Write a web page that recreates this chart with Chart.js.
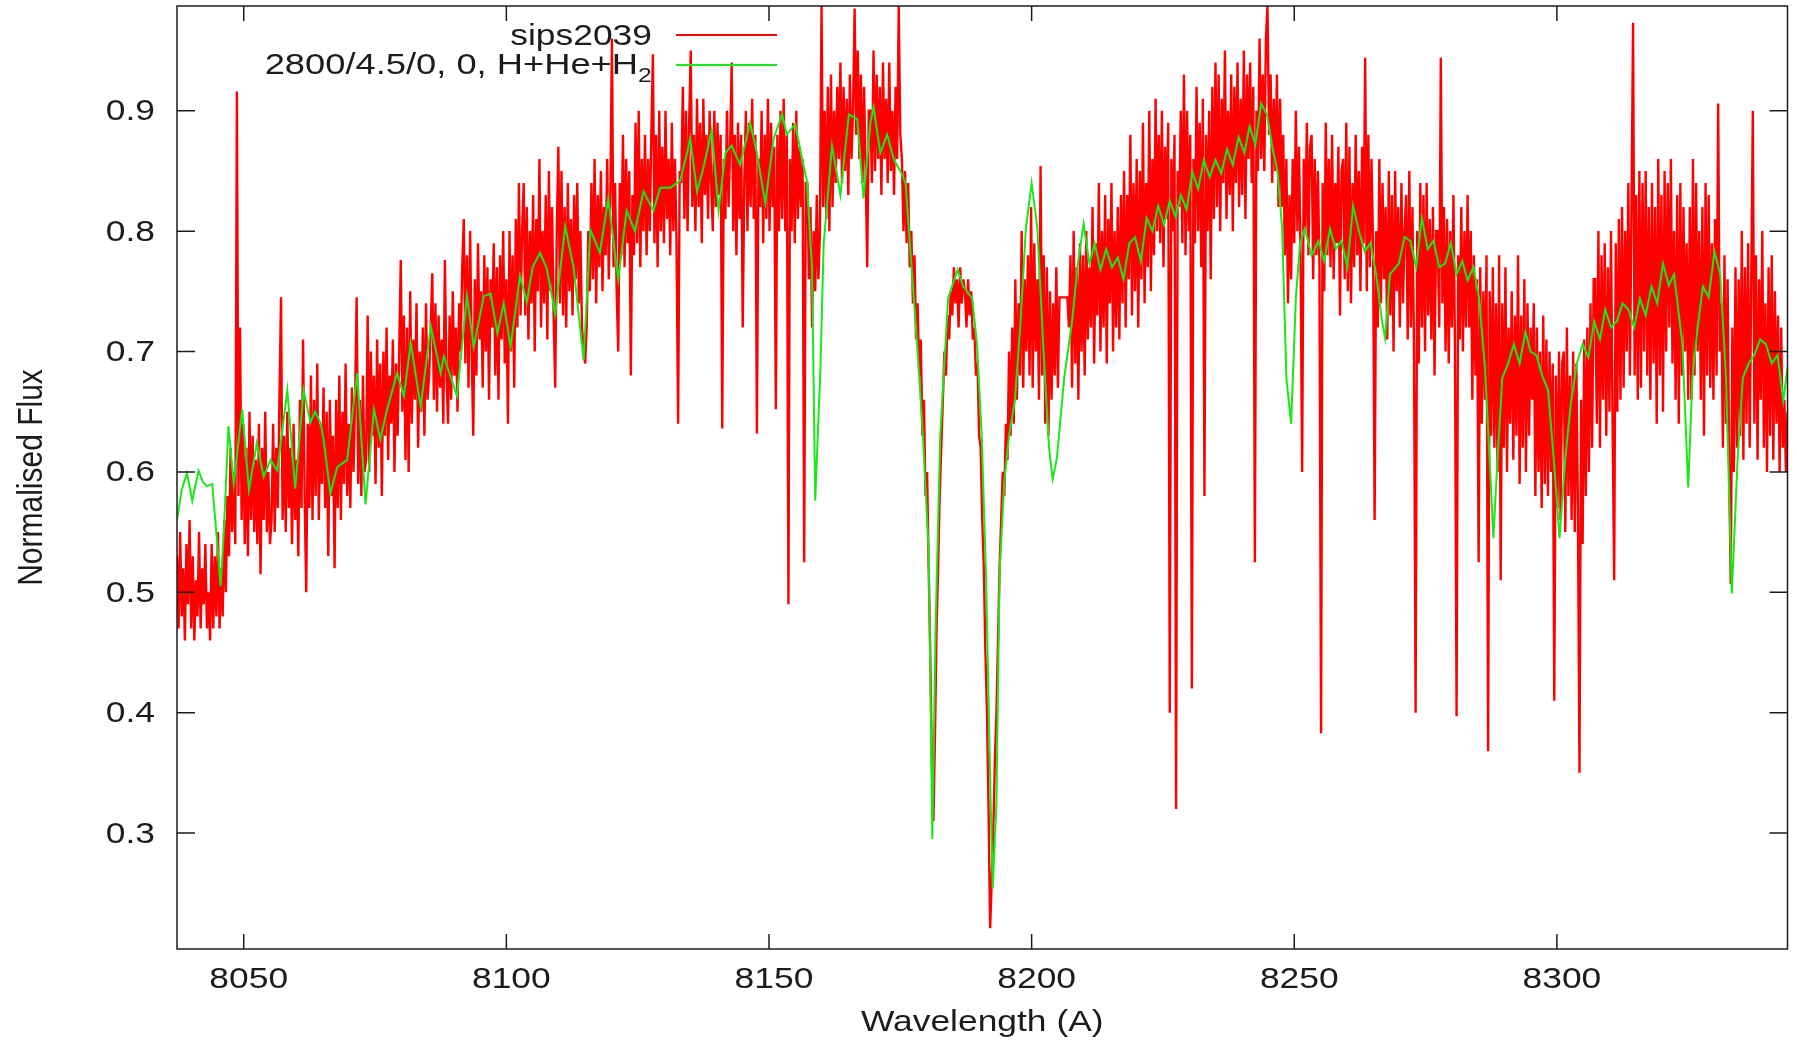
<!DOCTYPE html>
<html>
<head>
<meta charset="utf-8">
<title>sips2039 spectrum</title>
<script src="https://cdn.jsdelivr.net/npm/chart.js@4.4.1/dist/chart.umd.min.js"></script>
<style>
  html, body { margin: 0; padding: 0; background: #fff; }
  #wrap { width: 1797px; height: 1041px; }
</style>
</head>
<body>
<div id="wrap"><canvas id="spec" width="1797" height="1041"></canvas></div>
<script>
// axis ranges and ticks
const xMin = 8037.3, xMax = 8343.9;
const yMin = 0.2037, yMax = 0.987;
const xTicks = [8050, 8100, 8150, 8200, 8250, 8300];
const yTicks = [0.3, 0.4, 0.5, 0.6, 0.7, 0.8, 0.9];

// observed spectrum, sampled every 0.3 A from 8037.3 A (one row = 6 A)
const sipsStart = 8037.3, sipsStep = 0.3;
const sipsFlux = [
  0.53, 0.47, 0.55, 0.48, 0.52, 0.46, 0.54, 0.49, 0.56, 0.47, 0.53, 0.46, 0.51, 0.48, 0.55, 0.47, 0.52, 0.49, 0.54, 0.47,
  0.50, 0.46, 0.54, 0.47, 0.53, 0.48, 0.55, 0.47, 0.52, 0.48, 0.56, 0.50, 0.58, 0.53, 0.62, 0.55, 0.60, 0.54, 0.916, 0.58,
  0.72, 0.56, 0.64, 0.54, 0.62, 0.53, 0.65, 0.56, 0.63, 0.55, 0.61, 0.54, 0.64, 0.515, 0.62, 0.56, 0.65, 0.55, 0.60, 0.54,
  0.56, 0.64, 0.55, 0.62, 0.57, 0.66, 0.745, 0.56, 0.63, 0.55, 0.65, 0.57, 0.62, 0.54, 0.64, 0.56, 0.61, 0.53, 0.66, 0.57,
  0.71, 0.58, 0.50, 0.64, 0.57, 0.68, 0.56, 0.66, 0.58, 0.69, 0.56, 0.64, 0.59, 0.67, 0.57, 0.65, 0.53, 0.66, 0.58, 0.63,
  0.52, 0.66, 0.57, 0.68, 0.56, 0.65, 0.59, 0.69, 0.58, 0.64, 0.57, 0.67, 0.60, 0.66, 0.745, 0.59, 0.66, 0.58, 0.68, 0.60,
  0.61, 0.73, 0.60, 0.70, 0.63, 0.68, 0.59, 0.71, 0.62, 0.69, 0.58, 0.70, 0.63, 0.72, 0.61, 0.68, 0.64, 0.71, 0.60, 0.69,
  0.63, 0.70, 0.776, 0.65, 0.73, 0.61, 0.72, 0.60, 0.75, 0.64, 0.71, 0.66, 0.74, 0.62, 0.70, 0.65, 0.72, 0.63, 0.74, 0.66,
  0.68, 0.72, 0.765, 0.66, 0.74, 0.65, 0.73, 0.67, 0.71, 0.64, 0.776, 0.68, 0.64, 0.73, 0.66, 0.75, 0.68, 0.72, 0.65, 0.74,
  0.70, 0.77, 0.81, 0.69, 0.78, 0.67, 0.80, 0.70, 0.63, 0.76, 0.68, 0.79, 0.71, 0.75, 0.67, 0.78, 0.70, 0.77, 0.66, 0.76,
  0.72, 0.79, 0.68, 0.77, 0.66, 0.78, 0.71, 0.80, 0.69, 0.76, 0.64, 0.80, 0.70, 0.78, 0.67, 0.81, 0.72, 0.84, 0.73, 0.80,
  0.84, 0.73, 0.82, 0.71, 0.80, 0.74, 0.83, 0.70, 0.81, 0.75, 0.86, 0.72, 0.80, 0.74, 0.83, 0.71, 0.85, 0.75, 0.82, 0.73,
  0.67, 0.80, 0.87, 0.74, 0.85, 0.73, 0.82, 0.72, 0.84, 0.75, 0.81, 0.73, 0.83, 0.76, 0.84, 0.74, 0.80, 0.72, 0.70, 0.69,
  0.72, 0.80, 0.75, 0.84, 0.76, 0.86, 0.74, 0.83, 0.77, 0.85, 0.75, 0.82, 0.78, 0.86, 0.76, 0.83, 0.96, 0.77, 0.84, 0.75,
  0.70, 0.84, 0.78, 0.88, 0.77, 0.86, 0.79, 0.85, 0.68, 0.83, 0.78, 0.89, 0.79, 0.90, 0.77, 0.86, 0.80, 0.88, 0.78, 0.86,
  0.80, 0.88, 0.947, 0.79, 0.88, 0.77, 0.90, 0.80, 0.87, 0.79, 0.90, 0.81, 0.86, 0.78, 0.89, 0.80, 0.86, 0.79, 0.64, 0.85,
  0.84, 0.92, 0.81, 0.90, 0.80, 0.89, 0.95, 0.82, 0.88, 0.80, 0.91, 0.82, 0.89, 0.79, 0.91, 0.83, 0.88, 0.81, 0.90, 0.84,
  0.80, 0.90, 0.82, 0.89, 0.83, 0.88, 0.636, 0.86, 0.81, 0.90, 0.82, 0.87, 0.94, 0.80, 0.88, 0.78, 0.89, 0.81, 0.88, 0.72,
  0.84, 0.90, 0.80, 0.89, 0.82, 0.91, 0.81, 0.88, 0.632, 0.86, 0.82, 0.90, 0.79, 0.88, 0.81, 0.91, 0.80, 0.89, 0.82, 0.87,
  0.652, 0.88, 0.80, 0.90, 0.81, 0.91, 0.80, 0.88, 0.49, 0.86, 0.80, 0.89, 0.79, 0.90, 0.81, 0.87, 0.82, 0.86, 0.525, 0.84,
  0.84, 0.76, 0.82, 0.72, 0.80, 0.75, 0.83, 0.76, 0.80, 0.987, 0.82, 0.90, 0.81, 0.92, 0.80, 0.93, 0.82, 0.90, 0.84, 0.92,
  0.86, 0.94, 0.84, 0.92, 0.85, 0.91, 0.83, 0.93, 0.86, 0.90, 0.985, 0.88, 0.95, 0.86, 0.93, 0.84, 0.92, 0.85, 0.77, 0.90,
  0.90, 0.84, 0.95, 0.85, 0.93, 0.86, 0.92, 0.83, 0.94, 0.86, 0.91, 0.84, 0.94, 0.85, 0.90, 0.83, 0.92, 0.86, 0.987, 0.88,
  0.86, 0.80, 0.85, 0.79, 0.84, 0.77, 0.80, 0.74, 0.78, 0.71, 0.74, 0.68, 0.71, 0.63, 0.66, 0.58, 0.60, 0.52, 0.45, 0.36,
  0.31, 0.38, 0.47, 0.52, 0.58, 0.62, 0.66, 0.70, 0.68, 0.73, 0.71, 0.75, 0.73, 0.77, 0.74, 0.76, 0.72, 0.77, 0.74, 0.76,
  0.75, 0.72, 0.76, 0.73, 0.75, 0.71, 0.72, 0.68, 0.69, 0.63, 0.62, 0.56, 0.52, 0.45, 0.40, 0.32, 0.221, 0.26, 0.30, 0.36,
  0.40, 0.46, 0.52, 0.56, 0.60, 0.58, 0.64, 0.61, 0.70, 0.63, 0.72, 0.64, 0.76, 0.66, 0.74, 0.68, 0.80, 0.67, 0.76, 0.70,
  0.78, 0.68, 0.82, 0.67, 0.79, 0.70, 0.76, 0.66, 0.854, 0.68, 0.78, 0.64, 0.77, 0.63, 0.75, 0.66, 0.74, 0.68, 0.77, 0.67,
  0.745, 0.745, 0.745, 0.745, 0.745, 0.745, 0.72, 0.78, 0.67, 0.80, 0.69, 0.77, 0.66, 0.79, 0.70, 0.78, 0.68, 0.80, 0.71, 0.77,
  0.72, 0.82, 0.69, 0.79, 0.73, 0.84, 0.70, 0.80, 0.72, 0.83, 0.69, 0.81, 0.74, 0.84, 0.70, 0.80, 0.72, 0.82, 0.71, 0.83,
  0.74, 0.85, 0.72, 0.83, 0.76, 0.88, 0.73, 0.84, 0.75, 0.86, 0.72, 0.85, 0.76, 0.89, 0.74, 0.84, 0.77, 0.90, 0.75, 0.86,
  0.78, 0.91, 0.80, 0.88, 0.79, 0.90, 0.77, 0.87, 0.81, 0.89, 0.40, 0.86, 0.80, 0.88, 0.32, 0.85, 0.82, 0.90, 0.79, 0.93,
  0.78, 0.90, 0.80, 0.88, 0.42, 0.86, 0.79, 0.92, 0.80, 0.89, 0.77, 0.91, 0.58, 0.88, 0.80, 0.90, 0.76, 0.92, 0.81, 0.94,
  0.82, 0.93, 0.80, 0.91, 0.84, 0.95, 0.81, 0.90, 0.83, 0.93, 0.80, 0.92, 0.84, 0.94, 0.82, 0.91, 0.83, 0.95, 0.81, 0.93,
  0.86, 0.94, 0.84, 0.92, 0.525, 0.90, 0.85, 0.96, 0.86, 0.93, 0.85, 0.96, 0.987, 0.88, 0.93, 0.84, 0.91, 0.85, 0.93, 0.82,
  0.91, 0.82, 0.88, 0.78, 0.86, 0.74, 0.83, 0.76, 0.86, 0.79, 0.90, 0.80, 0.87, 0.78, 0.60, 0.86, 0.80, 0.89, 0.78, 0.87,
  0.88, 0.76, 0.86, 0.78, 0.85, 0.77, 0.383, 0.84, 0.75, 0.89, 0.78, 0.86, 0.77, 0.88, 0.76, 0.84, 0.79, 0.87, 0.73, 0.85,
  0.86, 0.76, 0.89, 0.75, 0.87, 0.74, 0.84, 0.77, 0.88, 0.78, 0.85, 0.75, 0.87, 0.79, 0.944, 0.75, 0.88, 0.77, 0.86, 0.79,
  0.56, 0.80, 0.72, 0.86, 0.74, 0.84, 0.76, 0.82, 0.71, 0.85, 0.73, 0.83, 0.70, 0.85, 0.75, 0.82, 0.72, 0.84, 0.74, 0.80,
  0.83, 0.71, 0.85, 0.72, 0.82, 0.70, 0.40, 0.80, 0.69, 0.84, 0.72, 0.83, 0.70, 0.84, 0.73, 0.81, 0.71, 0.82, 0.68, 0.80,
  0.80, 0.72, 0.944, 0.74, 0.82, 0.70, 0.81, 0.69, 0.80, 0.72, 0.83, 0.70, 0.397, 0.78, 0.71, 0.82, 0.70, 0.80, 0.72, 0.83,
  0.72, 0.80, 0.66, 0.78, 0.68, 0.76, 0.525, 0.77, 0.64, 0.75, 0.66, 0.78, 0.368, 0.75, 0.63, 0.77, 0.62, 0.74, 0.60, 0.78,
  0.51, 0.74, 0.62, 0.77, 0.60, 0.72, 0.64, 0.75, 0.61, 0.73, 0.63, 0.78, 0.59, 0.73, 0.62, 0.76, 0.60, 0.74, 0.63, 0.72,
  0.66, 0.74, 0.58, 0.72, 0.60, 0.70, 0.57, 0.73, 0.59, 0.71, 0.58, 0.70, 0.60, 0.69, 0.41, 0.68, 0.57, 0.70, 0.56, 0.69,
  0.70, 0.55, 0.72, 0.58, 0.68, 0.56, 0.70, 0.55, 0.69, 0.57, 0.35, 0.66, 0.54, 0.71, 0.58, 0.72, 0.60, 0.74, 0.62, 0.76,
  0.76, 0.64, 0.80, 0.62, 0.78, 0.66, 0.79, 0.63, 0.77, 0.65, 0.80, 0.64, 0.51, 0.79, 0.65, 0.81, 0.66, 0.82, 0.67, 0.80,
  0.70, 0.84, 0.68, 0.82, 0.973, 0.68, 0.83, 0.66, 0.85, 0.67, 0.84, 0.70, 0.85, 0.68, 0.82, 0.66, 0.84, 0.69, 0.82, 0.64,
  0.86, 0.68, 0.83, 0.65, 0.85, 0.70, 0.84, 0.72, 0.86, 0.69, 0.80, 0.66, 0.83, 0.64, 0.84, 0.68, 0.82, 0.70, 0.79, 0.66,
  0.82, 0.66, 0.86, 0.68, 0.84, 0.70, 0.80, 0.66, 0.82, 0.63, 0.84, 0.68, 0.83, 0.67, 0.79, 0.66, 0.81, 0.68, 0.906, 0.70,
  0.74, 0.62, 0.78, 0.64, 0.76, 0.60, 0.507, 0.72, 0.60, 0.77, 0.62, 0.76, 0.63, 0.80, 0.61, 0.77, 0.64, 0.79, 0.62, 0.76,
  0.90, 0.64, 0.78, 0.61, 0.76, 0.66, 0.80, 0.62, 0.74, 0.60, 0.77, 0.63, 0.78, 0.61, 0.75, 0.64, 0.73, 0.60, 0.72, 0.62,
  0.66, 0.60, 0.65
];

// model spectrum 2800/4.5/0
const modelWave = [
  8037.3, 8038.2, 8039.2, 8040.2, 8041.4, 8042.2, 8043.0, 8044.0, 8044.9, 8045.6,
  8046.2, 8047.1, 8048.1, 8049.7, 8051.0, 8052.5, 8053.8, 8055.1, 8056.4, 8058.3,
  8059.8, 8061.4, 8062.7, 8063.6, 8064.6, 8065.2, 8066.5, 8067.8, 8069.7, 8071.6,
  8073.2, 8074.8, 8076.0, 8077.3, 8079.2, 8080.5, 8081.8, 8083.7, 8085.6, 8087.5,
  8088.1, 8090.6, 8092.5, 8093.8, 8095.7, 8097.0, 8098.3, 8099.5, 8100.8, 8102.6,
  8103.9, 8105.0, 8106.4, 8107.7, 8109.3, 8111.2, 8112.8, 8114.7, 8116.0, 8117.8,
  8119.4, 8121.3, 8122.9, 8124.5, 8126.1, 8128.0, 8129.3, 8131.2, 8133.1, 8134.4,
  8135.0, 8136.3, 8137.5, 8139.1, 8140.4, 8141.7, 8142.9, 8144.5, 8146.4, 8147.7,
  8149.3, 8150.9, 8152.5, 8153.4, 8155.0, 8156.3, 8157.2, 8158.2, 8158.8, 8159.8,
  8160.4, 8162.0, 8163.6, 8165.2, 8166.8, 8168.0, 8169.3, 8169.9, 8171.2, 8172.5,
  8173.8, 8175.0, 8176.0, 8177.1, 8178.2, 8179.3, 8180.4, 8181.1, 8181.7, 8182.6,
  8184.1, 8185.9, 8187.0, 8188.7, 8189.6, 8190.5, 8191.3, 8192.2, 8192.6, 8193.3,
  8193.9, 8194.8, 8195.7, 8196.8, 8197.9, 8198.9, 8200.0, 8201.1, 8202.2, 8203.3,
  8204.0, 8204.8, 8206.2, 8207.7, 8208.8, 8209.9, 8211.0, 8212.0, 8213.1, 8214.2,
  8215.3, 8216.4, 8217.5, 8218.6, 8219.7, 8220.8, 8221.9, 8223.0, 8224.1, 8225.2,
  8226.3, 8227.4, 8228.4, 8229.5, 8230.6, 8231.7, 8232.8, 8233.9, 8235.0, 8236.1,
  8237.2, 8238.3, 8239.4, 8240.5, 8241.5, 8242.6, 8243.7, 8244.8, 8245.9, 8246.8,
  8247.7, 8248.5, 8249.4, 8250.3, 8251.1, 8252.0, 8253.3, 8254.6, 8255.7, 8256.8,
  8257.9, 8259.0, 8260.1, 8261.2, 8262.3, 8263.4, 8264.5, 8265.6, 8266.7, 8267.3,
  8268.2, 8269.9, 8271.0, 8272.1, 8273.2, 8274.3, 8275.4, 8276.5, 8277.6, 8278.7,
  8279.8, 8280.9, 8282.0, 8283.0, 8284.1, 8285.2, 8286.3, 8287.4, 8287.9, 8288.7,
  8289.6, 8290.7, 8291.8, 8292.9, 8294.0, 8295.0, 8296.1, 8297.2, 8298.3, 8299.4,
  8300.5, 8301.6, 8302.7, 8303.8, 8304.9, 8306.0, 8307.1, 8308.2, 8309.2, 8310.3,
  8311.4, 8312.5, 8313.6, 8314.7, 8315.8, 8316.9, 8318.0, 8319.1, 8320.2, 8321.3,
  8322.3, 8323.9, 8325.0, 8325.8, 8326.8, 8327.8, 8328.9, 8330.0, 8331.1, 8332.2,
  8333.3, 8334.4, 8335.4, 8336.5, 8337.6, 8338.7, 8339.8, 8340.9, 8342.0, 8343.1,
  8343.9
];
const modelFlux = [
  0.560, 0.585, 0.599, 0.576, 0.601, 0.592, 0.588, 0.590, 0.544, 0.505,
  0.549, 0.638, 0.590, 0.652, 0.585, 0.624, 0.596, 0.610, 0.601, 0.668,
  0.586, 0.668, 0.641, 0.650, 0.641, 0.627, 0.582, 0.604, 0.610, 0.682,
  0.573, 0.652, 0.627, 0.652, 0.682, 0.663, 0.707, 0.654, 0.721, 0.682,
  0.696, 0.663, 0.746, 0.704, 0.746, 0.748, 0.715, 0.740, 0.704, 0.763,
  0.741, 0.770, 0.782, 0.769, 0.731, 0.804, 0.770, 0.693, 0.801, 0.782,
  0.827, 0.760, 0.817, 0.800, 0.833, 0.817, 0.836, 0.836, 0.842, 0.865,
  0.877, 0.833, 0.852, 0.884, 0.817, 0.865, 0.871, 0.855, 0.890, 0.865,
  0.823, 0.877, 0.897, 0.880, 0.889, 0.860, 0.842, 0.769, 0.576, 0.687,
  0.789, 0.871, 0.830, 0.897, 0.893, 0.827, 0.890, 0.903, 0.865, 0.880,
  0.859, 0.850, 0.840, 0.773, 0.706, 0.630, 0.535, 0.295, 0.468, 0.630,
  0.744, 0.768, 0.754, 0.744, 0.706, 0.630, 0.516, 0.326, 0.254, 0.326,
  0.516, 0.592, 0.630, 0.659, 0.725, 0.802, 0.840, 0.802, 0.706, 0.621,
  0.594, 0.611, 0.678, 0.725, 0.773, 0.806, 0.773, 0.790, 0.768, 0.785,
  0.770, 0.778, 0.760, 0.790, 0.795, 0.775, 0.811, 0.800, 0.821, 0.805,
  0.825, 0.812, 0.830, 0.818, 0.849, 0.835, 0.859, 0.845, 0.859, 0.848,
  0.868, 0.855, 0.878, 0.865, 0.887, 0.872, 0.906, 0.897, 0.868, 0.850,
  0.802, 0.678, 0.640, 0.744, 0.790, 0.802, 0.780, 0.792, 0.775, 0.802,
  0.785, 0.792, 0.770, 0.821, 0.800, 0.783, 0.790, 0.764, 0.725, 0.711,
  0.764, 0.773, 0.795, 0.792, 0.770, 0.811, 0.785, 0.792, 0.770, 0.773,
  0.790, 0.764, 0.775, 0.759, 0.770, 0.744, 0.687, 0.592, 0.545, 0.611,
  0.678, 0.690, 0.706, 0.690, 0.716, 0.700, 0.697, 0.680, 0.668, 0.611,
  0.545, 0.611, 0.659, 0.690, 0.706, 0.695, 0.725, 0.710, 0.735, 0.720,
  0.725, 0.740, 0.735, 0.720, 0.744, 0.730, 0.754, 0.740, 0.773, 0.755,
  0.764, 0.706, 0.587, 0.678, 0.720, 0.754, 0.745, 0.783, 0.764, 0.678,
  0.499, 0.611, 0.678, 0.690, 0.697, 0.710, 0.706, 0.690, 0.697, 0.659,
  0.687
];

const sipsLabel = 'sips2039';
const modelLabel = '2800/4.5/0, 0, H+He+H';
const modelLabelSub = '2';

const sipsPoints = sipsFlux.map((v, i) => ({ x: +(sipsStart + i * sipsStep).toFixed(2), y: v }));
const modelPoints = modelWave.map((w, i) => ({ x: w, y: modelFlux[i] }));

const RED = '#ff0000';
const GREEN = 'rgb(24, 232, 24)';
const INK = '#1c1c1c';
const FONT = '"Liberation Sans", Arial, Helvetica, sans-serif';
const SX = 1.18; // the original image is stretched sideways

function stretchedText(ctx, text, x, y, align, size, rotate, sx) {
    ctx.save();
    ctx.translate(x, y);
    ctx.scale(sx || SX, 1);
    if (rotate) ctx.rotate(-Math.PI / 2);
    ctx.font = size + 'px ' + FONT;
    ctx.fillStyle = INK;
    ctx.textAlign = align;
    ctx.textBaseline = 'alphabetic';
    ctx.fillText(text, 0, 0);
    ctx.restore();
}

// gnuplot style frame, inward ticks, labels and key
const gnuplotFrame = {
    id: 'gnuplotFrame',
    afterDatasetsDraw(chart) {
        const { ctx, chartArea: a } = chart;
        const xs = chart.scales.x, ys = chart.scales.y;
        ctx.save();
        ctx.strokeStyle = INK;
        ctx.lineWidth = 1.5;
        ctx.strokeRect(a.left, a.top, a.right - a.left, a.bottom - a.top);

        ctx.beginPath();
        xTicks.forEach(t => {
            const px = xs.getPixelForValue(t);
            ctx.moveTo(px, a.bottom); ctx.lineTo(px, a.bottom - 15);
            ctx.moveTo(px, a.top); ctx.lineTo(px, a.top + 15);
        });
        yTicks.forEach(t => {
            const py = ys.getPixelForValue(t);
            ctx.moveTo(a.left, py); ctx.lineTo(a.left + 18, py);
            ctx.moveTo(a.right, py); ctx.lineTo(a.right - 18, py);
        });
        ctx.stroke();

        xTicks.forEach(t => {
            stretchedText(ctx, String(t), xs.getPixelForValue(t) + 5, 988, 'center', 30);
        });
        yTicks.forEach(t => {
            stretchedText(ctx, t.toFixed(1), 155, ys.getPixelForValue(t) + 9.5, 'right', 30);
        });

        stretchedText(ctx, 'Wavelength (A)', (a.left + a.right) / 2, 1031, 'center', 30);
        stretchedText(ctx, 'Normalised Flux', 41.5, (a.top + a.bottom) / 2, 'center', 30, true);

        // key
        stretchedText(ctx, sipsLabel, 652, 45, 'right', 30);
        stretchedText(ctx, modelLabel, 638, 74, 'right', 30, false, 1.21);
        stretchedText(ctx, modelLabelSub, 638, 82, 'left', 21);
        ctx.lineWidth = 2.2;
        ctx.strokeStyle = RED;
        ctx.beginPath(); ctx.moveTo(676, 35); ctx.lineTo(777, 35); ctx.stroke();
        ctx.strokeStyle = GREEN;
        ctx.beginPath(); ctx.moveTo(676, 65); ctx.lineTo(777, 65); ctx.stroke();
        ctx.restore();
    }
};

new Chart(document.getElementById('spec'), {
    type: 'line',
    data: {
        datasets: [{
            label: sipsLabel,
            data: sipsPoints,
            borderColor: RED,
            borderWidth: 2.4,
            pointRadius: 0,
            order: 2
        }, {
            label: modelLabel + modelLabelSub,
            data: modelPoints,
            borderColor: GREEN,
            borderWidth: 2,
            pointRadius: 0,
            order: 1
        }]
    },
    options: {
        responsive: false,
        animation: false,
        devicePixelRatio: 1,
        layout: { padding: { left: 177, right: 9.5, top: 6, bottom: 92 } },
        elements: { line: { tension: 0 } },
        plugins: {
            legend: { display: false },
            tooltip: { enabled: false }
        },
        scales: {
            x: { type: 'linear', min: xMin, max: xMax, display: false },
            y: { type: 'linear', min: yMin, max: yMax, display: false }
        }
    },
    plugins: [gnuplotFrame]
});
</script>
</body>
</html>
